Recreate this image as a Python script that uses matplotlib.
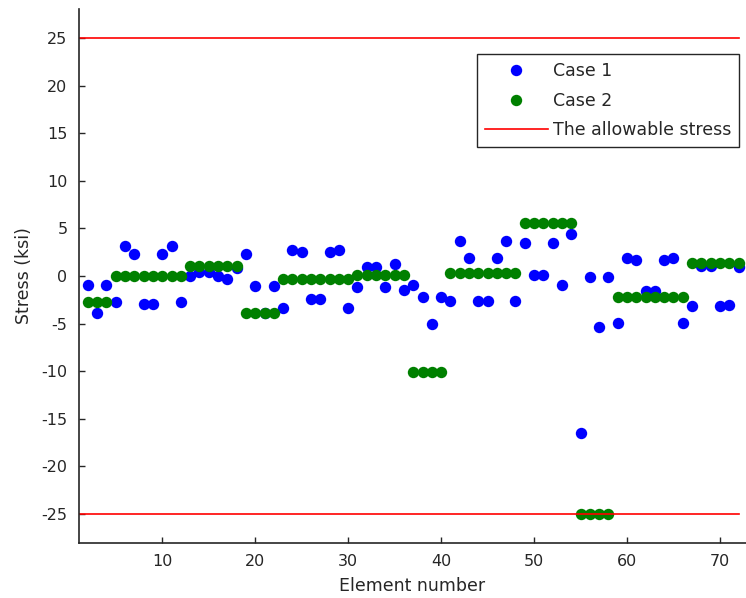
import numpy as np
import matplotlib
matplotlib.use("Agg")
import matplotlib.pyplot as plt

plt.rcParams['font.family'] = ['DejaVu Sans']
plt.rcParams['axes.unicode_minus'] = False

elements = list(range(2, 73))
case1 = [-0.9, -3.9, -0.9, -2.7, 3.2, 2.3, -2.9, -2.9, 2.3, 3.2,
         -2.7, 0.0, 0.4, 0.4, 0.0, -0.3, 0.8, 2.3, -1.1, -3.9,
         -1.1, -3.4, 2.7, 2.5, -2.4, -2.4, 2.5, 2.7, -3.4, -1.2,
         0.9, 0.9, -1.2, 1.3, -1.5, -0.9, -2.2, -5.0, -2.2, -2.6,
         3.7, 1.9, -2.6, -2.6, 1.9, 3.7, -2.6, 3.5, 0.1, 0.1,
         3.5, -0.9, 4.4, -16.5, -0.1, -5.4, -0.1, -4.9, 1.9, 1.7,
         -1.6, -1.6, 1.7, 1.9, -4.9, -3.2, 1.0, 1.0, -3.2, -3.1,
         0.9]
case2 = ([-2.7] * 3 + [0.0] * 8 + [1.0] * 6 + [-3.9] * 4 + [-0.3] * 8 +
         [0.1] * 6 + [-10.1] * 4 + [0.3] * 8 + [5.6] * 6 + [-25.0] * 4 +
         [-2.2] * 8 + [1.4] * 6)
allowable = 25
line_x = [1, 72]

W, H = 746, 598
fig = plt.figure(figsize=(W / 100, H / 100), dpi=100)
ax = fig.add_axes([78.6 / W, 1 - 543 / H, (746 - 78.6) / W, (543 - 9) / H])

ax.plot(elements, case1, 'o', color='#0000ff', markersize=8.2, markeredgewidth=0, label='Case 1')
ax.plot(elements, case2, 'o', color='#008000', markersize=8.2, markeredgewidth=0, label='Case 2')
ax.plot(line_x, [allowable, allowable], '-', color='#ff0000', linewidth=1.2, label='The allowable stress')
ax.plot(line_x, [-allowable, -allowable], '-', color='#ff0000', linewidth=1.2)

ax.set_xlim(1, 72.8)
ax.set_ylim(-28.1, 28.1)
ax.set_xticks([10, 20, 30, 40, 50, 60, 70])
ax.set_yticks(np.arange(-25, 26, 5))
ax.tick_params(direction='in', length=4, width=1, labelsize=11.5, colors='#262626', pad=8)
for s in ['top', 'right']:
    ax.spines[s].set_visible(False)
for s in ['left', 'bottom']:
    ax.spines[s].set_color('#262626')
    ax.spines[s].set_linewidth(1.2)

ax.set_xlabel('Element number', fontsize=12.5, color='#262626', labelpad=6)
ax.set_ylabel('Stress (ksi)', fontsize=12.5, color='#262626', labelpad=6)

leg = ax.legend(loc='upper right', bbox_to_anchor=(739 / W, 1 - 54 / H),
                bbox_transform=fig.transFigure, borderaxespad=0,
                fontsize=12.5, handlelength=3.6, handletextpad=0.3,
                labelspacing=0.68, borderpad=0.45, fancybox=False,
                edgecolor='#262626', framealpha=1, numpoints=1)
leg.get_frame().set_linewidth(1.0)
for t in leg.get_texts():
    t.set_color('#262626')

fig.savefig('out.png', dpi=100)
